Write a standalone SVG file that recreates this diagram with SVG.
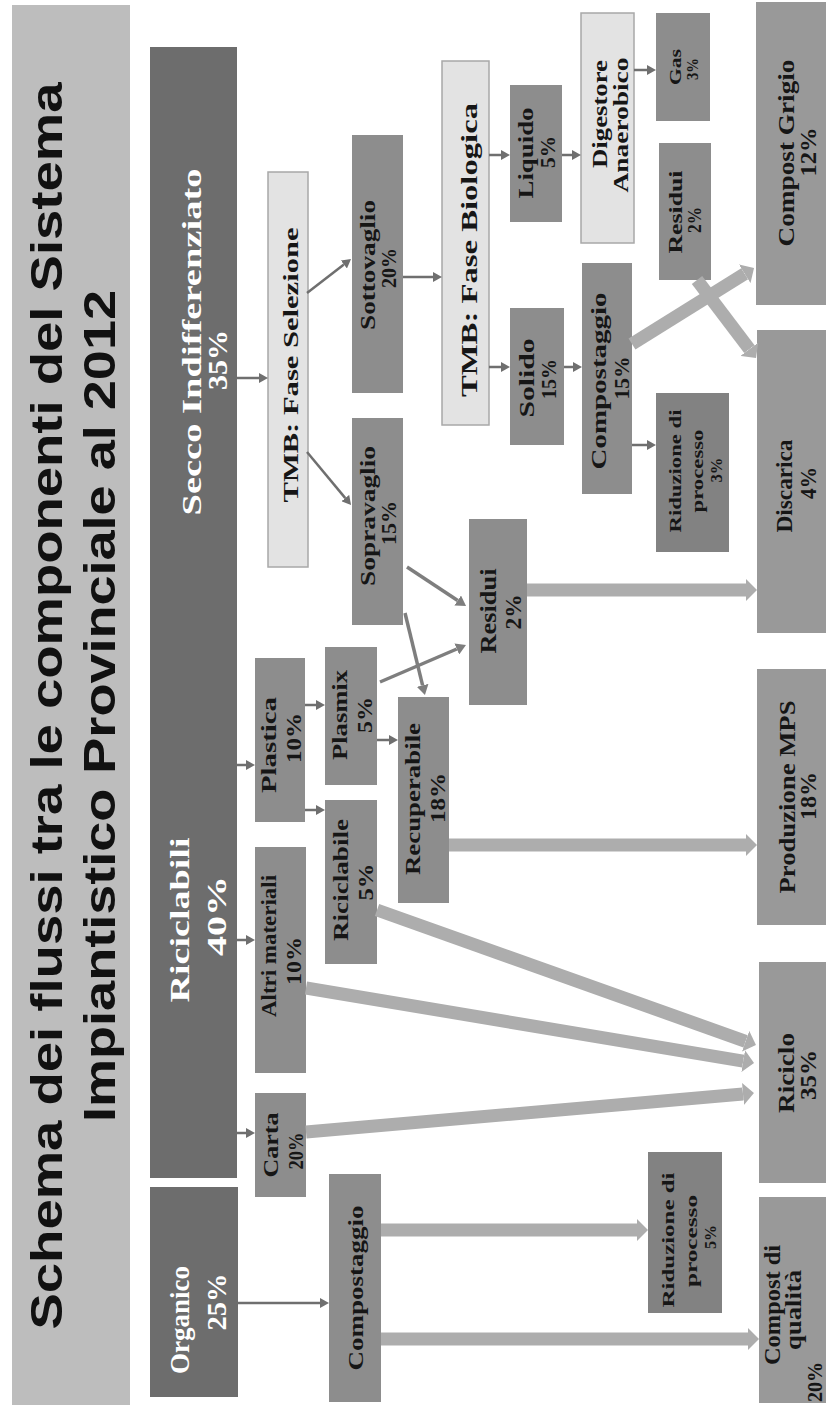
<svg xmlns="http://www.w3.org/2000/svg" width="829" height="1409" viewBox="0 0 829 1409">
<defs>
<style>
.bg{fill:#ffffff}
.band{fill:#bdbdbd}
.hdr{fill:#6d6d6d}
.nd{fill:#8d8d8d}
.nd2{fill:#999999}
.nd3{fill:#828282}
.lt{fill:#e3e3e3;stroke:#a8a8a8;stroke-width:1.5}
.title{font-family:"Liberation Sans",Arial,sans-serif;font-weight:bold;font-size:44px;fill:#111;text-anchor:middle}
.ht{font-family:"Liberation Serif","Times New Roman",serif;font-weight:bold;font-size:28px;fill:#fff;text-anchor:middle}
.t{font-family:"Liberation Serif","Times New Roman",serif;font-weight:bold;fill:#161616;text-anchor:middle}
.thin{stroke:#6f6f6f;stroke-width:2.5;fill:none}
.mid{stroke:#7e7e7e;stroke-width:3.5;fill:none}
.thick{stroke:#adadad;stroke-width:13;fill:none}
</style>
<marker id="ah" markerUnits="userSpaceOnUse" markerWidth="9" markerHeight="10" refX="0" refY="5" orient="auto"><path d="M0,0 L9,5 L0,10 z" fill="#6f6f6f"/></marker>
<marker id="am" markerUnits="userSpaceOnUse" markerWidth="10" markerHeight="12" refX="0" refY="6" orient="auto"><path d="M0,0 L10,6 L0,12 z" fill="#7e7e7e"/></marker>
<marker id="at" markerUnits="userSpaceOnUse" markerWidth="11" markerHeight="22" refX="0" refY="11" orient="auto"><path d="M0,0 L11,11 L0,22 z" fill="#adadad"/></marker>
</defs>
<rect class="bg" x="0" y="0" width="829" height="1409"/>

<g id="title">
<rect class="band" x="12" y="5" width="118" height="1400"/>
<text class="title" transform="translate(62,706) rotate(-90)" textLength="1247" lengthAdjust="spacingAndGlyphs">Schema dei flussi tra le componenti del Sistema</text>
<text class="title" transform="translate(115,706) rotate(-90)" textLength="832" lengthAdjust="spacingAndGlyphs">Impiantistico Provinciale al 2012</text>
</g>

<g id="secco">
<rect class="hdr" x="150" y="47" width="87" height="718"/>
<text class="ht" transform="translate(201,342) rotate(-90)" textLength="347" lengthAdjust="spacingAndGlyphs">Secco Indifferenziato</text>
<text class="ht" transform="translate(227,360) rotate(-90)" textLength="60" lengthAdjust="spacingAndGlyphs">35%</text>
</g>
<g id="riciclabili">
<rect class="hdr" x="150" y="665" width="87" height="513"/>
<text class="ht" transform="translate(189,920) rotate(-90)" textLength="165" lengthAdjust="spacingAndGlyphs">Riciclabili</text>
<text class="ht" transform="translate(226,916) rotate(-90)" textLength="80" lengthAdjust="spacingAndGlyphs">40%</text>
</g>
<g id="organico">
<rect class="hdr" x="150" y="1187" width="88" height="210"/>
<text class="ht" transform="translate(189,1320) rotate(-90)" textLength="108" lengthAdjust="spacingAndGlyphs">Organico</text>
<text class="ht" transform="translate(226,1302) rotate(-90)" textLength="57" lengthAdjust="spacingAndGlyphs">25%</text>
</g>

<g id="tmb-selezione">
<rect class="lt" x="268" y="172" width="40" height="395"/>
<text class="t" font-size="22" transform="translate(298,365) rotate(-90)" textLength="275" lengthAdjust="spacingAndGlyphs">TMB: Fase Selezione</text>
</g>
<g id="sottovaglio">
<rect class="nd" x="352" y="135" width="51" height="258"/>
<text class="t" font-size="20" transform="translate(375,265) rotate(-90)" textLength="130" lengthAdjust="spacingAndGlyphs">Sottovaglio</text>
<text class="t" font-size="20" transform="translate(396,268) rotate(-90)" textLength="40" lengthAdjust="spacingAndGlyphs">20%</text>
</g>
<g id="sopravaglio">
<rect class="nd" x="352" y="418" width="51" height="207"/>
<text class="t" font-size="20" transform="translate(375,516) rotate(-90)" textLength="140" lengthAdjust="spacingAndGlyphs">Sopravaglio</text>
<text class="t" font-size="20" transform="translate(396,523) rotate(-90)" textLength="44" lengthAdjust="spacingAndGlyphs">15%</text>
</g>
<g id="tmb-biologica">
<rect class="lt" x="442" y="61" width="47" height="364"/>
<text class="t" font-size="24" transform="translate(477,250) rotate(-90)" textLength="294" lengthAdjust="spacingAndGlyphs">TMB: Fase Biologica</text>
</g>
<g id="liquido">
<rect class="nd" x="510" y="85" width="52" height="137"/>
<text class="t" font-size="20" transform="translate(533,153) rotate(-90)" textLength="91" lengthAdjust="spacingAndGlyphs">Liquido</text>
<text class="t" font-size="20" transform="translate(555,152) rotate(-90)" textLength="32" lengthAdjust="spacingAndGlyphs">5%</text>
</g>
<g id="solido">
<rect class="nd" x="510" y="308" width="54" height="137"/>
<text class="t" font-size="20" transform="translate(534,378) rotate(-90)" textLength="79" lengthAdjust="spacingAndGlyphs">Solido</text>
<text class="t" font-size="20" transform="translate(556,379) rotate(-90)" textLength="40" lengthAdjust="spacingAndGlyphs">15%</text>
</g>
<g id="digestore">
<rect class="lt" x="581" y="13" width="53" height="230"/>
<text class="t" font-size="22" transform="translate(607,114) rotate(-90)" textLength="108" lengthAdjust="spacingAndGlyphs">Digestore</text>
<text class="t" font-size="22" transform="translate(628,125) rotate(-90)" textLength="135" lengthAdjust="spacingAndGlyphs">Anaerobico</text>
</g>
<g id="gas">
<rect class="nd" x="656" y="13" width="54" height="108"/>
<text class="t" font-size="17" transform="translate(681,67) rotate(-90)" textLength="36" lengthAdjust="spacingAndGlyphs">Gas</text>
<text class="t" font-size="17" transform="translate(698,69) rotate(-90)" textLength="22" lengthAdjust="spacingAndGlyphs">3%</text>
</g>
<g id="residui-bio">
<rect class="nd" x="659" y="143" width="52" height="137"/>
<text class="t" font-size="18" transform="translate(682,212) rotate(-90)" textLength="83" lengthAdjust="spacingAndGlyphs">Residui</text>
<text class="t" font-size="18" transform="translate(701,220) rotate(-90)" textLength="26" lengthAdjust="spacingAndGlyphs">2%</text>
</g>
<g id="compost-grigio">
<rect class="nd2" x="756" y="2" width="70" height="303"/>
<text class="t" font-size="24" transform="translate(794,153) rotate(-90)" textLength="187" lengthAdjust="spacingAndGlyphs">Compost Grigio</text>
<text class="t" font-size="24" transform="translate(816,152) rotate(-90)" textLength="49" lengthAdjust="spacingAndGlyphs">12%</text>
</g>
<g id="compostaggio-secco">
<rect class="nd" x="582" y="263" width="50" height="231"/>
<text class="t" font-size="22" transform="translate(606,381) rotate(-90)" textLength="177" lengthAdjust="spacingAndGlyphs">Compostaggio</text>
<text class="t" font-size="22" transform="translate(629,378) rotate(-90)" textLength="43" lengthAdjust="spacingAndGlyphs">15%</text>
</g>
<g id="riduzione-secco">
<rect class="nd3" x="656" y="393" width="73" height="159"/>
<text class="t" font-size="17" transform="translate(681,471) rotate(-90)" textLength="123" lengthAdjust="spacingAndGlyphs">Riduzione di</text>
<text class="t" font-size="17" transform="translate(703,471) rotate(-90)" textLength="83" lengthAdjust="spacingAndGlyphs">processo</text>
<text class="t" font-size="17" transform="translate(722,470) rotate(-90)" textLength="25" lengthAdjust="spacingAndGlyphs">3%</text>
</g>
<g id="discarica">
<rect class="nd2" x="757" y="330" width="69" height="303"/>
<text class="t" font-size="23" transform="translate(792,486) rotate(-90)" textLength="93" lengthAdjust="spacingAndGlyphs">Discarica</text>
<text class="t" font-size="23" transform="translate(816,483) rotate(-90)" textLength="32" lengthAdjust="spacingAndGlyphs">4%</text>
</g>
<g id="produzione-mps">
<rect class="nd2" x="757" y="669" width="69" height="256"/>
<text class="t" font-size="23" transform="translate(795,797) rotate(-90)" textLength="193" lengthAdjust="spacingAndGlyphs">Produzione MPS</text>
<text class="t" font-size="23" transform="translate(816,796) rotate(-90)" textLength="48" lengthAdjust="spacingAndGlyphs">18%</text>
</g>
<g id="residui-sel">
<rect class="nd" x="469" y="519" width="58" height="186"/>
<text class="t" font-size="24" transform="translate(496,611) rotate(-90)" textLength="85" lengthAdjust="spacingAndGlyphs">Residui</text>
<text class="t" font-size="24" transform="translate(521,612) rotate(-90)" textLength="35" lengthAdjust="spacingAndGlyphs">2%</text>
</g>
<g id="plasmix">
<rect class="nd" x="325" y="647" width="52" height="138"/>
<text class="t" font-size="21" transform="translate(347,715) rotate(-90)" textLength="90" lengthAdjust="spacingAndGlyphs">Plasmix</text>
<text class="t" font-size="21" transform="translate(372,715) rotate(-90)" textLength="36" lengthAdjust="spacingAndGlyphs">5%</text>
</g>
<g id="recuperabile">
<rect class="nd" x="398" y="697" width="51" height="206"/>
<text class="t" font-size="21" transform="translate(420,799) rotate(-90)" textLength="152" lengthAdjust="spacingAndGlyphs">Recuperabile</text>
<text class="t" font-size="21" transform="translate(445,798) rotate(-90)" textLength="50" lengthAdjust="spacingAndGlyphs">18%</text>
</g>
<g id="plastica">
<rect class="nd" x="255" y="658" width="50" height="164"/>
<text class="t" font-size="21" transform="translate(276,745) rotate(-90)" textLength="96" lengthAdjust="spacingAndGlyphs">Plastica</text>
<text class="t" font-size="21" transform="translate(301,738) rotate(-90)" textLength="50" lengthAdjust="spacingAndGlyphs">10%</text>
</g>
<g id="riciclabile">
<rect class="nd" x="325" y="800" width="52" height="164"/>
<text class="t" font-size="21" transform="translate(348,880) rotate(-90)" textLength="122" lengthAdjust="spacingAndGlyphs">Riciclabile</text>
<text class="t" font-size="21" transform="translate(373,882) rotate(-90)" textLength="37" lengthAdjust="spacingAndGlyphs">5%</text>
</g>
<g id="altri-materiali">
<rect class="nd" x="255" y="847" width="51" height="226"/>
<text class="t" font-size="21" transform="translate(276,946) rotate(-90)" textLength="142" lengthAdjust="spacingAndGlyphs">Altri materiali</text>
<text class="t" font-size="21" transform="translate(301,961) rotate(-90)" textLength="48" lengthAdjust="spacingAndGlyphs">10%</text>
</g>
<g id="carta">
<rect class="nd" x="255" y="1093" width="51" height="104"/>
<text class="t" font-size="21" transform="translate(278,1145) rotate(-90)" textLength="65" lengthAdjust="spacingAndGlyphs">Carta</text>
<text class="t" font-size="21" transform="translate(303,1151) rotate(-90)" textLength="37" lengthAdjust="spacingAndGlyphs">20%</text>
</g>
<g id="compostaggio-org">
<rect class="nd" x="329" y="1174" width="52" height="228"/>
<text class="t" font-size="22" transform="translate(363,1288) rotate(-90)" textLength="165" lengthAdjust="spacingAndGlyphs">Compostaggio</text>
</g>
<g id="riduzione-org">
<rect class="nd3" x="648" y="1152" width="74" height="161"/>
<text class="t" font-size="17" transform="translate(674,1240) rotate(-90)" textLength="135" lengthAdjust="spacingAndGlyphs">Riduzione di</text>
<text class="t" font-size="17" transform="translate(697,1241) rotate(-90)" textLength="92" lengthAdjust="spacingAndGlyphs">processo</text>
<text class="t" font-size="17" transform="translate(716,1237) rotate(-90)" textLength="24" lengthAdjust="spacingAndGlyphs">5%</text>
</g>
<g id="riciclo">
<rect class="nd2" x="759" y="962" width="67" height="221"/>
<text class="t" font-size="23" transform="translate(794,1073) rotate(-90)" textLength="80" lengthAdjust="spacingAndGlyphs">Riciclo</text>
<text class="t" font-size="23" transform="translate(816,1075) rotate(-90)" textLength="50" lengthAdjust="spacingAndGlyphs">35%</text>
</g>
<g id="compost-qualita">
<rect class="nd2" x="759" y="1197" width="67" height="206"/>
<text class="t" font-size="23" transform="translate(780,1305) rotate(-90)" textLength="120" lengthAdjust="spacingAndGlyphs">Compost di</text>
<text class="t" font-size="23" transform="translate(801,1310) rotate(-90)" textLength="80" lengthAdjust="spacingAndGlyphs">qualità</text>
<text class="t" font-size="22" transform="translate(822,1382) rotate(-90)" textLength="40" lengthAdjust="spacingAndGlyphs">20%</text>
</g>

<g id="connectors">
<line class="thick" x1="527" y1="590" x2="746" y2="590" marker-end="url(#at)"/>
<line class="thick" x1="449" y1="845" x2="746" y2="845" marker-end="url(#at)"/>
<line class="thick" x1="377" y1="910" x2="745.6" y2="1041.3" marker-end="url(#at)"/>
<line class="thick" x1="306" y1="988" x2="743.2" y2="1061.2" marker-end="url(#at)"/>
<line class="thick" x1="306" y1="1132" x2="743" y2="1094" marker-end="url(#at)"/>
<line class="thick" x1="381" y1="1230" x2="637" y2="1230" marker-end="url(#at)"/>
<line class="thick" x1="381" y1="1339" x2="748" y2="1339" marker-end="url(#at)"/>
<line class="thick" x1="632" y1="344" x2="744.7" y2="273.8" marker-end="url(#at)"/>
<line class="thick" x1="697" y1="280" x2="749.4" y2="349.2" marker-end="url(#at)"/>

<line class="thin" x1="237" y1="378" x2="259" y2="378" marker-end="url(#ah)"/>
<line class="thin" x1="307" y1="293" x2="343.9" y2="264.5" marker-end="url(#ah)"/>
<line class="thin" x1="307" y1="452" x2="345.3" y2="498.1" marker-end="url(#ah)"/>
<line class="thin" x1="403" y1="277" x2="433" y2="277" marker-end="url(#ah)"/>
<line class="thin" x1="489" y1="155" x2="501" y2="155" marker-end="url(#ah)"/>
<line class="thin" x1="489" y1="367" x2="501" y2="367" marker-end="url(#ah)"/>
<line class="thin" x1="562" y1="155" x2="572" y2="155" marker-end="url(#ah)"/>
<line class="thin" x1="634" y1="70" x2="647" y2="70" marker-end="url(#ah)"/>
<line class="thin" x1="564" y1="367" x2="573" y2="367" marker-end="url(#ah)"/>
<line class="thin" x1="632" y1="445" x2="647" y2="445" marker-end="url(#ah)"/>
<line class="thin" x1="305" y1="705" x2="316" y2="705" marker-end="url(#ah)"/>
<line class="thin" x1="305" y1="810" x2="316" y2="810" marker-end="url(#ah)"/>
<line class="thin" x1="377" y1="740" x2="389" y2="740" marker-end="url(#ah)"/>
<line class="thin" x1="237" y1="765" x2="246" y2="765" marker-end="url(#ah)"/>
<line class="thin" x1="237" y1="940" x2="246" y2="940" marker-end="url(#ah)"/>
<line class="thin" x1="237" y1="1133" x2="246" y2="1133" marker-end="url(#ah)"/>
<line class="thin" x1="238" y1="1303" x2="320" y2="1303" marker-end="url(#ah)"/>

<line class="mid" x1="407" y1="567" x2="457.7" y2="600.5" marker-end="url(#am)"/>
<line class="mid" x1="380" y1="682" x2="456.8" y2="649" marker-end="url(#am)"/>
<line class="mid" x1="405" y1="613" x2="422.6" y2="685.3" marker-end="url(#am)"/>
</g>
</svg>
